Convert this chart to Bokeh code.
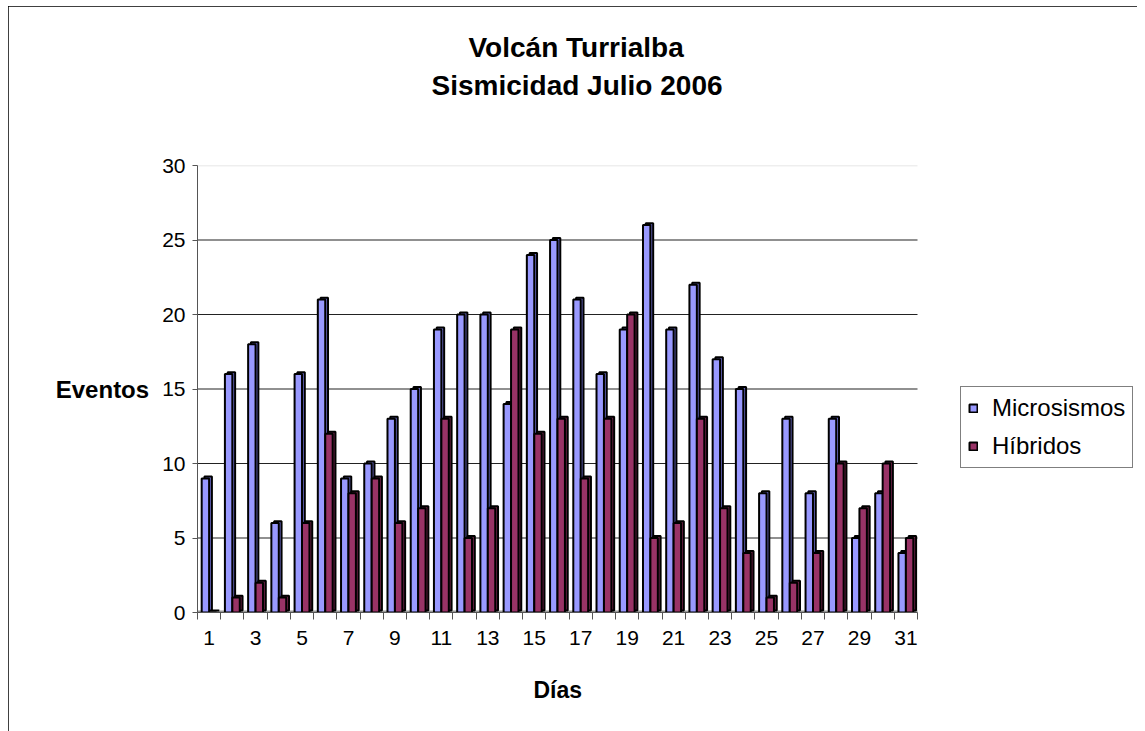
from bokeh.plotting import figure
from bokeh.models import (Range1d, FixedTicker, Legend, LegendItem, Title,
                          ColumnDataSource)
from bokeh.embed import file_html
from bokeh.resources import INLINE

days = list(range(1, 32))
microsismos = [9, 16, 18, 6, 16, 21, 9, 10, 13, 15, 19, 20, 20, 14, 24, 25,
               21, 16, 19, 26, 19, 22, 17, 15, 8, 13, 8, 13, 5, 8, 4]
hibridos = [0, 1, 2, 1, 6, 12, 8, 9, 6, 7, 13, 5, 7, 19, 12, 13,
            9, 13, 20, 5, 6, 13, 7, 4, 1, 2, 4, 10, 7, 10, 5]
y_ticks = [0, 5, 10, 15, 20, 25, 30]
x_label_days = [d for d in days if d % 2 == 1]

FONT = "Liberation Sans"
C_MICRO = "#9999FF"
C_MICRO_SIDE = "#6B6BC8"
C_HIB = "#993366"
C_HIB_SIDE = "#6E2248"

# layout geometry (pixels)
W, H = 1129, 725
B_LEFT, B_RIGHT, B_TOP, B_BOTTOM = 189, 2, 159, 119
PLOT_W = 720                      # width of the category area
FRAME_W = W - B_LEFT - B_RIGHT    # frame extends under the legend

x0 = days[0] - 0.5
x1 = days[-1] + 0.5
x_end = x0 + (x1 - x0) * FRAME_W / PLOT_W

p = figure(width=W, height=H, output_backend="svg", toolbar_location=None,
           x_range=Range1d(x0, x_end), y_range=Range1d(y_ticks[0], y_ticks[-1]),
           min_border_left=B_LEFT, min_border_right=B_RIGHT, min_border_top=B_TOP,
           min_border_bottom=B_BOTTOM)
p.styles = {"margin-left": "8px", "margin-top": "6px",
            "outline": "1px solid #000000", "outline-offset": "-1px"}
p.outline_line_color = None
p.background_fill_color = "white"

# titles (inner first): spacer, second line, first line
p.add_layout(Title(text=" ", text_font=FONT, text_font_size="10px", standoff=49), "above")
p.add_layout(Title(text="Sismicidad Julio 2006", text_font=FONT, text_font_size="28px",
                   text_font_style="bold", text_color="black", align="left",
                   offset=234, standoff=5), "above")
p.add_layout(Title(text="Volcán Turrialba", text_font=FONT, text_font_size="28px",
                   text_font_style="bold", text_color="black", align="left",
                   offset=271, standoff=5), "above")

# axes
p.yaxis.ticker = FixedTicker(ticks=y_ticks)
p.yaxis.major_label_text_font = FONT
p.yaxis.major_label_text_font_size = "21px"
p.yaxis.major_label_text_color = "black"
p.yaxis.axis_line_color = "#555555"
p.yaxis.major_tick_line_color = "#555555"
p.yaxis.major_tick_out = 5
p.yaxis.major_tick_in = 0
p.yaxis.minor_tick_line_color = None
p.yaxis.major_label_standoff = 7
p.yaxis.axis_label = "Eventos"
p.yaxis.axis_label_orientation = "horizontal"
p.yaxis.axis_label_text_font = FONT
p.yaxis.axis_label_text_font_size = "24px"
p.yaxis.axis_label_text_font_style = "bold"
p.yaxis.axis_label_text_color = "black"
p.yaxis.axis_label_standoff = 10

p.xaxis.bounds = (x0, x1)
p.xaxis.ticker = FixedTicker(ticks=x_label_days,
                             minor_ticks=[d + 0.5 for d in range(0, len(days) + 1)])
p.xaxis.major_label_text_font = FONT
p.xaxis.major_label_text_font_size = "21px"
p.xaxis.major_label_text_color = "black"
p.xaxis.axis_line_color = "#555555"
p.xaxis.major_tick_line_color = None
p.xaxis.major_tick_out = 0
p.xaxis.major_tick_in = 0
p.xaxis.minor_tick_line_color = "#555555"
p.xaxis.minor_tick_out = 7
p.xaxis.minor_tick_in = 0
p.xaxis.major_label_standoff = 11

p.add_layout(Title(text="Días", text_font=FONT, text_font_size="23px",
                   text_font_style="bold", text_color="black", align="left",
                   offset=336, standoff=54), "below")

# gridlines limited to the category area
p.xgrid.grid_line_color = None
p.ygrid.grid_line_color = None
inner = y_ticks[1:-1]
p.segment(x0=[x0] * len(inner), x1=[x1] * len(inner), y0=inner, y1=inner,
          line_color="#222222", line_width=1.2)
p.segment(x0=[x0], x1=[x1], y0=[y_ticks[-1]], y1=[y_ticks[-1]],
          line_color="#DDDDDD", line_width=1.5)
p.segment(x0=[x0], x1=[x1], y0=[y_ticks[0]], y1=[y_ticks[0]],
          line_color="#999999", line_width=4)

# bars with 3D effect
bw = 0.32
dx = 0.12
dy = 0.13
off_m = -0.16
off_h = 0.16

src_m = ColumnDataSource(dict(
    left=[d + off_m - bw / 2 for d in days],
    right=[d + off_m + bw / 2 for d in days],
    top=microsismos))
src_h = ColumnDataSource(dict(
    left=[d + off_h - bw / 2 for d in days],
    right=[d + off_h + bw / 2 for d in days],
    top=hibridos))

def draw(src, vals, fill, side):
    back = ColumnDataSource(dict(
        left=[l + dx for l in src.data["left"]],
        right=[r + dx for r in src.data["right"]],
        top=[v + dy for v in vals],
        bottom=[dy] * len(vals)))
    p.quad(left="left", right="right", top="top", bottom="bottom", source=back,
           fill_color=side, line_color="black", line_width=2)
    return p.quad(left="left", right="right", top="top", bottom=0, source=src,
                  fill_color=fill, line_color="black", line_width=2)

r_m = draw(src_m, microsismos, C_MICRO, C_MICRO_SIDE)
r_h = draw(src_h, hibridos, C_HIB, C_HIB_SIDE)

legend = Legend(items=[LegendItem(label="Microsismos", renderers=[r_m]),
                       LegendItem(label="Híbridos", renderers=[r_h])],
                location=(763, 144), orientation="vertical")
legend.label_text_font = FONT
legend.label_text_font_size = "24px"
legend.label_text_color = "black"
legend.border_line_color = "black"
legend.border_line_width = 1
legend.glyph_width = 10
legend.glyph_height = 10
legend.label_height = 24
legend.padding = 7
legend.spacing = 10
legend.label_standoff = 14
legend.margin = 0
legend.background_fill_alpha = 1
p.add_layout(legend, "center")

open("out.html", "w").write(file_html(p, INLINE))
